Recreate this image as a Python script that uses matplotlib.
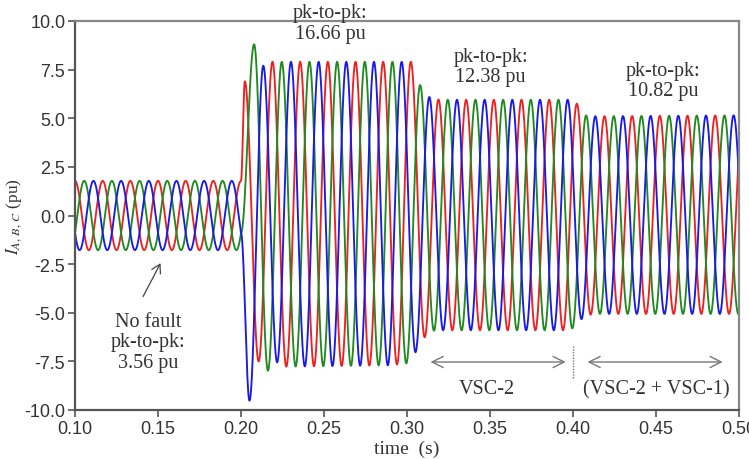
import numpy as np
import matplotlib
matplotlib.use("Agg")
import matplotlib.pyplot as plt

# ---------------- data ----------------
freq_hz = 60.0
t_start, t_fault, t_end = 0.10, 0.20, 0.50
prefault_amp = 1.78                      # pu  (pk-to-pk 3.56 pu)

phase_names = ["A", "B", "C"]
phase_colors = ["#ee2020", "#1f8a1f", "#1a1ae8"]
prefault_peak_time = [0.1000, 0.10556, 0.11111]      # first positive peak of each phase
postfault_first_ext_time = [0.2023, 0.2079, 0.2051]  # first extreme after the fault
postfault_first_ext_vals = [[6.9, -7.5],             # first few extremes (transient)
                            [8.8, -7.98],
                            [-9.52, 7.7, -7.55]]

# envelope of positive / negative peaks after the fault
env_pos_t = [0.200, 0.300, 0.3025, 0.3086, 0.3142, 0.320, 0.398, 0.4027, 0.4083, 0.500]
env_pos_v = [7.90, 7.90, 7.90, 6.55, 6.02, 5.95, 5.95, 5.73, 5.10, 5.15]
env_neg_t = [0.200, 0.290, 0.300, 0.3051, 0.3112, 0.3166, 0.395, 0.4005, 0.4057, 0.4117, 0.500]
env_neg_v = [-7.80, -7.70, -7.60, -7.03, -6.18, -5.90, -5.90, -5.78, -5.27, -5.06, -5.06]

x_ticks = [0.10, 0.15, 0.20, 0.25, 0.30, 0.35, 0.40, 0.45, 0.50]
x_tick_labels = ["0.10", "0.15", "0.20", "0.25", "0.30", "0.35", "0.40", "0.45", "0.50"]
y_ticks = [10.0, 7.5, 5.0, 2.5, 0.0, -2.5, -5.0, -7.5, -10.0]
y_tick_labels = ["10.0", "7.5", "5.0", "2.5", "0.0", "-2.5", "-5.0", "-7.5", "-10.0"]

# ---------------- waveform construction ----------------
t = np.linspace(t_start, t_end, 12001)
half = 0.5 / freq_hz


def wave(k):
    y = prefault_amp * np.cos(2 * np.pi * freq_hz * (t - prefault_peak_time[k]))
    y0 = prefault_amp * np.cos(2 * np.pi * freq_hz * (t_fault - prefault_peak_time[k]))
    n_t, n_v = [t_fault], [y0]
    tk = postfault_first_ext_time[k]
    first = postfault_first_ext_vals[k]
    sign = np.sign(first[0])
    i = 0
    while tk < t_end + 2 * half:
        if i < len(first):
            v = first[i]
        elif sign > 0:
            v = np.interp(tk, env_pos_t, env_pos_v)
        else:
            v = np.interp(tk, env_neg_t, env_neg_v)
        n_t.append(tk)
        n_v.append(v)
        tk += half
        sign = -sign
        i += 1
    n_t = np.array(n_t)
    n_v = np.array(n_v)
    m = t > t_fault
    idx = np.searchsorted(n_t, t[m]) - 1
    ta, tb = n_t[idx], n_t[idx + 1]
    va, vb = n_v[idx], n_v[idx + 1]
    frac = (t[m] - ta) / (tb - ta)
    y[m] = (va + vb) / 2 + (va - vb) / 2 * np.cos(np.pi * frac)
    return y


# ---------------- figure ----------------
plt.rcParams['mathtext.fontset'] = 'stix'
SERIF = 'Liberation Serif'
SANS = 'Liberation Sans'
TXT = '#333333'

fig = plt.figure(figsize=(7.49, 4.60), dpi=100)
ax = fig.add_axes([75 / 749, 1 - 411 / 460, (739 - 75) / 749, (411 - 22) / 460])

for k in range(3):
    ax.plot(t, wave(k), color=phase_colors[k], lw=1.35, label=phase_names[k])

ax.set_xlim(0.10, 0.50)
ax.set_ylim(-10, 10)
ax.set_xticks(x_ticks)
ax.set_xticklabels(x_tick_labels, fontfamily=SANS, fontsize=13, color=TXT)
ax.set_yticks(y_ticks)
ax.set_yticklabels(y_tick_labels, fontfamily=SANS, fontsize=13, color=TXT)
ax.tick_params(direction='out', length=5, width=1.2, color='#555555', pad=2)

for s in ['left', 'bottom']:
    ax.spines[s].set_color('#555555')
    ax.spines[s].set_linewidth(1.6)
for s in ['top', 'right']:
    ax.spines[s].set_color('#888888')
    ax.spines[s].set_linewidth(1.6)

ax.set_xlabel('time  (s)', fontfamily=SERIF, fontsize=14, color=TXT, labelpad=2)
ax.set_ylabel(r'$I_{A,\,B,\,C}$ (pu)', fontfamily=SERIF, fontsize=12.5, color=TXT, labelpad=0)

def tt(x):
    return 0.1 + (x - 75) / 1657.5

def vv(y):
    return (216.5 - y) / 19.45

tkw = dict(fontfamily=SERIF, fontsize=14.5, color=TXT, ha='center', va='center',
           linespacing=1.12)
ax.text(tt(330), vv(24), 'pk-to-pk:\n16.66 pu', clip_on=False, **tkw)
ax.text(tt(490), vv(67.5), 'pk-to-pk:\n12.38 pu', **tkw)
ax.text(tt(662), vv(81.5), 'pk-to-pk:\n10.82 pu', **tkw)
ax.text(tt(148), vv(343), 'No fault\npk-to-pk:\n3.56 pu', **tkw)
ax.text(tt(486.7), vv(390), 'VSC-2', **tkw)
ax.text(tt(655), vv(390), '(VSC-2 + VSC-1)', **tkw)

ax.annotate('', xy=(tt(161.7), vv(261.7)), xytext=(tt(141.7), vv(300)),
            arrowprops=dict(arrowstyle='->,head_length=0.6,head_width=0.35',
                            color='#444444', lw=0.9))
akw = dict(arrowstyle='<->,head_length=0.8,head_width=0.4', color='#777777', lw=1.0,
           shrinkA=0, shrinkB=0)
ax.annotate('', xy=(tt(430), vv(363)), xytext=(tt(565), vv(363)), arrowprops=akw)
ax.annotate('', xy=(tt(586.7), vv(363)), xytext=(tt(721.7), vv(363)), arrowprops=akw)
ax.plot([0.40, 0.40], [vv(347), vv(380)], color='#777777', lw=1.0, ls=(0, (1, 1)))

fig.savefig('out.png', dpi=100)
